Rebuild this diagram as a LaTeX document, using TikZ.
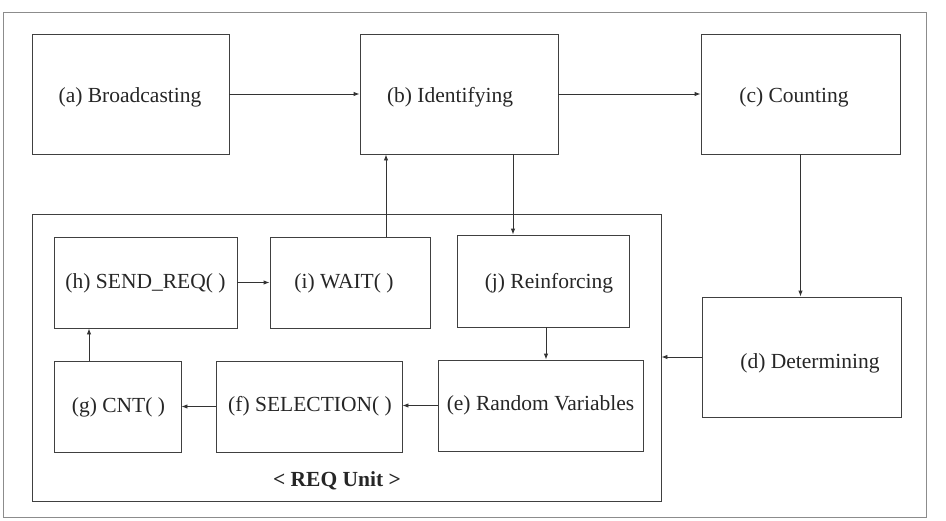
\documentclass[tikz,border=0pt]{standalone}
\usepackage{fontspec}
\setmainfont{Liberation Serif}
\usetikzlibrary{arrows.meta}
\begin{document}
\begin{tikzpicture}[x=1pt,y=-1pt,
  box/.style={draw=black!75,line width=0.9pt,inner sep=0pt,rectangle},
  txt/.style={inner sep=0pt,font=\fontsize{21.5}{24}\selectfont,text=black!85},
  arr/.style={draw=black!80,line width=0.9pt,-{Latex[length=6pt,width=4.5pt]}},
  ln/.style={draw=black!80,line width=0.9pt}]
\useasboundingbox (0,0) rectangle (946,520);
\draw[draw=black!45,line width=1pt] (3,12) rectangle (926,517);
% main boxes
\node[box,minimum width=197pt,minimum height=120pt] (a) at (130.5,94) {};
\node[box,minimum width=198pt,minimum height=120pt] (b) at (459,94) {};
\node[box,minimum width=199pt,minimum height=120pt] (c) at (800.5,94) {};
\node[box,minimum width=199pt,minimum height=120pt] (d) at (801.5,357) {};
\node[box,minimum width=629pt,minimum height=287pt] (R) at (346.5,357.5) {};
\node[box,minimum width=183pt,minimum height=91pt] (h) at (145.5,282.5) {};
\node[box,minimum width=160pt,minimum height=91pt] (i) at (350,282.5) {};
\node[box,minimum width=172pt,minimum height=92pt] (j) at (543,281) {};
\node[box,minimum width=127pt,minimum height=91pt] (g) at (117.5,406.5) {};
\node[box,minimum width=186pt,minimum height=91pt] (f) at (309,406.5) {};
\node[box,minimum width=205pt,minimum height=91pt] (e) at (540.5,405.5) {};
% texts
\node[txt] (ta) at (130,97) {(a) Broadcasting};
\node[txt] (tb) at (450,97) {(b) Identifying};
\node[txt] (tc) at (794,97) {(c) Counting};
\node[txt] (td) at (810,363) {(d) Determining};
\node[txt] (th) at (145.5,283) {(h) SEND\_REQ( )};
\node[txt] (ti) at (344,283) {(i) WAIT( )};
\node[txt] (tj) at (549,283) {(j) Reinforcing};
\node[txt] (tg) at (118.5,407) {(g) CNT( )};
\node[txt] (tf) at (310,406) {(f) SELECTION( )};
\node[txt] (te) at (540.5,405) {(e) Random Variables};
\node[txt,font=\fontsize{21.5}{24}\selectfont\bfseries] (tr) at (337,481) {< REQ Unit >};
% connectors
\draw[arr] (a.east) -- (b.west);
\draw[arr] (b.east) -- (c.west);
\draw[arr] (c.south) -- (c.south |- d.north);
\draw[arr] (d.west) -- (d.west -| R.east);
\draw[arr] ([xshift=54pt]b.south) -- ([xshift=54pt]b.south |- j.north);
\draw[arr] ([xshift=36pt]i.north) -- ([xshift=36pt]i.north |- b.south);
\draw[arr] (h.east) -- (i.west);
\draw[arr] ([xshift=3pt]j.south) -- ([xshift=3pt]j.south |- e.north);
\draw[arr] (e.west) -- (e.west -| f.east);
\draw[arr] (f.west) -- (g.east);
\draw[arr] ([xshift=-28.5pt]g.north) -- ([xshift=-28.5pt]g.north |- h.south);
\end{tikzpicture}
\end{document}
